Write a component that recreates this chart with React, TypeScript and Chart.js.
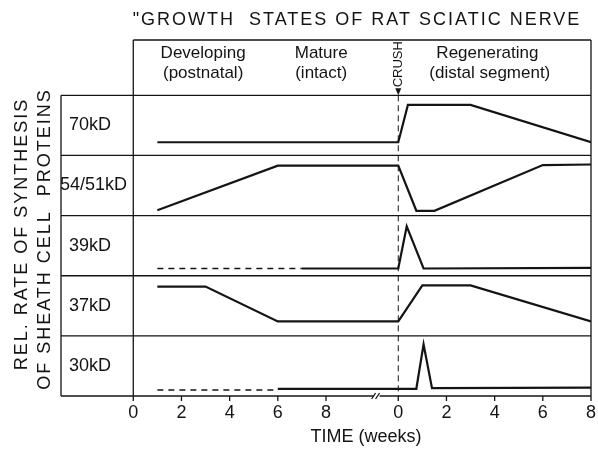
import { useEffect, useRef } from "react";
import { Chart, registerables } from "chart.js";
Chart.register(...registerables);

// Combined time axis: postnatal weeks on the left, weeks after crush on the right
const CRUSH_POS = 11;
const AXIS_START = -3;
const AXIS_END = 19;
const HEADER_TOP = 5.92;
const BREAK_POS = 10.1;

const preTicks = [0, 2, 4, 6, 8];
const postTicks = [0, 2, 4, 6, 8];
const proteins = ["70kD", "54/51kD", "39kD", "37kD", "30kD"];

// [week, relative rate 0..1 within panel]; pre = postnatal week, post = weeks after crush
const kD70Pre = [[1, 0.22]];
const kD70Post = [[0, 0.22], [0.4, 0.84], [3, 0.84], [8, 0.22]];

const kD54Pre = [[1, 0.09], [6, 0.83]];
const kD54Post = [[0, 0.83], [0.75, 0.08], [1.5, 0.08], [6, 0.84], [8, 0.85]];

const kD39PreDashed = [[1, 0.12], [7, 0.12]];
const kD39Pre = [[7, 0.12]];
const kD39Post = [[0, 0.12], [0.35, 0.82], [1.05, 0.12], [8, 0.13]];

const kD37Pre = [[1, 0.82], [3, 0.82], [6, 0.24]];
const kD37Post = [[0, 0.24], [1, 0.84], [3, 0.84], [8, 0.24]];

const kD30PreDashed = [[1, 0.1], [6, 0.1]];
const kD30Pre = [[6, 0.12]];
const kD30Post = [[0, 0.12], [0.75, 0.12], [1.05, 0.86], [1.4, 0.13], [8, 0.14]];

function build(pre: number[][], post: number[][], base: number) {
  return [
    ...pre.map(([w, l]) => ({ x: w, y: base + l })),
    ...post.map(([w, l]) => ({ x: CRUSH_POS + w, y: base + l })),
  ];
}

const INK = "#141414";
const FONT = '"Liberation Sans", Arial, sans-serif';

const overlay = {
  id: "overlay",
  afterDraw(chart: any) {
    const ctx = chart.ctx as any;
    const X = (v: number) => chart.scales.x.getPixelForValue(v);
    const Y = (v: number) => chart.scales.y.getPixelForValue(v);
    ctx.save();
    ctx.strokeStyle = INK;
    ctx.fillStyle = INK;
    ctx.lineWidth = 1.3;
    const line = (x1: number, y1: number, x2: number, y2: number) => {
      ctx.beginPath();
      ctx.moveTo(x1, y1);
      ctx.lineTo(x2, y2);
      ctx.stroke();
    };
    // frame
    line(X(AXIS_START), Y(5), X(AXIS_START), Y(0));
    for (let i = 1; i <= 5; i++) line(X(AXIS_START), Y(i), X(AXIS_END), Y(i));
    line(X(0), Y(HEADER_TOP), X(AXIS_END), Y(HEADER_TOP));
    line(X(0), Y(HEADER_TOP), X(0), Y(0));
    line(X(AXIS_END), Y(HEADER_TOP), X(AXIS_END), Y(0));
    line(X(AXIS_START), Y(0), X(AXIS_END), Y(0));
    // axis break
    const bx = X(BREAK_POS), by = Y(0);
    ctx.save();
    ctx.fillStyle = "#fff";
    ctx.fillRect(bx - 3, by - 2, 6, 4);
    ctx.restore();
    line(bx - 5, by + 3, bx - 1, by - 3);
    line(bx - 1, by + 3, bx + 3, by - 3);
    // ticks
    ctx.font = `18px ${FONT}`;
    ctx.textAlign = "center";
    ctx.textBaseline = "middle";
    const tick = (pos: number, label: string) => {
      const px = X(pos);
      line(px, Y(0), px, Y(0) + 5);
      ctx.fillText(label, px, Y(0) + 17);
    };
    preTicks.forEach((t) => tick(t, String(t)));
    postTicks.forEach((t) => tick(CRUSH_POS + t, String(t)));
    // crush dashed line
    ctx.save();
    ctx.setLineDash([6, 4]);
    ctx.lineWidth = 1;
    line(X(CRUSH_POS), Y(5), X(CRUSH_POS), Y(0));
    ctx.restore();
    // crush arrow + label
    const cx = X(CRUSH_POS);
    const ay = Y(5);
    ctx.beginPath();
    ctx.moveTo(cx, ay);
    ctx.lineTo(cx - 3, ay - 7);
    ctx.lineTo(cx + 3, ay - 7);
    ctx.closePath();
    ctx.fill();
    ctx.save();
    ctx.translate(cx, ay - 8);
    ctx.rotate(-Math.PI / 2);
    ctx.font = `13px ${FONT}`;
    ctx.textAlign = "left";
    ctx.textBaseline = "middle";
    ctx.fillText("CRUSH", 0, 0);
    ctx.restore();
    // header texts
    ctx.font = `17px ${FONT}`;
    ctx.textAlign = "center";
    const hy1 = Y(5) - 42;
    const hy2 = Y(5) - 22;
    ctx.fillText("Developing", X(2.9), hy1);
    ctx.fillText("(postnatal)", X(2.9), hy2);
    ctx.fillText("Mature", X(7.8), hy1);
    ctx.fillText("(intact)", X(7.8), hy2);
    ctx.fillText("Regenerating", X(CRUSH_POS + 3.7), hy1);
    ctx.fillText("(distal segment)", X(CRUSH_POS + 3.8), hy2);
    // title
    ctx.font = `18px ${FONT}`;
    ctx.letterSpacing = "2px";
    ctx.fillText('"GROWTH  STATES OF RAT SCIATIC NERVE', 357, 20);
    ctx.letterSpacing = "0px";
    // panel labels
    ctx.textAlign = "left";
    proteins.forEach((p, i) => {
      const base = 4 - i;
      const lx = p.length > 5 ? X(AXIS_START) - 1 : X(AXIS_START) + 8;
      ctx.fillText(p, lx, Y(base + 0.5));
    });
    // y title
    ctx.save();
    ctx.translate(22, 234);
    ctx.rotate(-Math.PI / 2);
    ctx.textAlign = "center";
    ctx.letterSpacing = "2px";
    ctx.fillText("REL. RATE OF SYNTHESIS", 0, 0);
    ctx.fillText("OF SHEATH CELL  PROTEINS", -5, 23);
    ctx.letterSpacing = "0px";
    ctx.restore();
    // x title
    ctx.textAlign = "center";
    ctx.fillText("TIME (weeks)", 366, 437);
    ctx.restore();
  },
};

export default function App() {
  const ref = useRef<HTMLCanvasElement>(null);
  useEffect(() => {
    if (!ref.current) return;
    const solid = (data: any[]) => ({
      data,
      borderColor: INK,
      borderWidth: 2.2,
      pointRadius: 0,
      tension: 0,
      fill: false,
    });
    const dashed = (data: any[]) => ({ ...solid(data), borderWidth: 1.6, borderDash: [6, 5] });
    const chart = new Chart(ref.current, {
      type: "line",
      data: {
        datasets: [
          solid(build(kD70Pre, kD70Post, 4)),
          solid(build(kD54Pre, kD54Post, 3)),
          dashed(build(kD39PreDashed, [], 2)),
          solid(build(kD39Pre, kD39Post, 2)),
          solid(build(kD37Pre, kD37Post, 1)),
          dashed(build(kD30PreDashed, [], 0)),
          solid(build(kD30Pre, kD30Post, 0)),
        ] as any,
      },
      options: {
        animation: false,
        responsive: true,
        maintainAspectRatio: false,
        layout: { padding: { left: 61, right: 7, top: 40, bottom: 58 } },
        plugins: { legend: { display: false }, tooltip: { enabled: false }, title: { display: false } },
        scales: {
          x: { type: "linear", min: AXIS_START, max: AXIS_END, display: false },
          y: { type: "linear", min: 0, max: HEADER_TOP, display: false },
        },
      },
      plugins: [overlay],
    });
    return () => chart.destroy();
  }, []);
  return (
    <div style={{ position: "fixed", left: 0, top: 0, width: 598, height: 454, background: "#fff" }}>
      <canvas ref={ref} />
    </div>
  );
}
